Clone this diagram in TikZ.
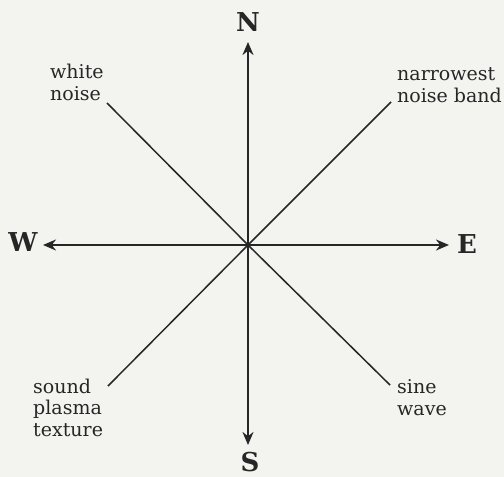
\documentclass[tikz,border=0pt]{standalone}
\usepackage{fontspec}
\setmainfont{DejaVu Serif}
\usetikzlibrary{arrows.meta}
\definecolor{ink}{HTML}{262626}
\definecolor{paper}{HTML}{F3F3F0}
\tikzset{
  arr/.style={draw=ink, line width=2.2pt, -{Stealth[length=13pt,width=11pt]}},
  diag/.style={draw=ink, line width=1.5pt},
  compass/.style={text=ink, font=\fontsize{26}{30}\selectfont\bfseries, inner sep=0pt},
  lbl/.style={text=ink, font=\fontsize{19}{21.5}\selectfont, align=left, inner sep=0pt, anchor=base west}
}
\begin{document}
\begin{tikzpicture}[x=1pt,y=-1pt]
\fill[paper] (0,0) rectangle (504,477);
\useasboundingbox (0,0) rectangle (504,477);
\coordinate (O) at (248,245);
\coordinate (tipN) at (248,42);
\coordinate (tipS) at (248,445);
\coordinate (tipW) at (43,245);
\coordinate (tipE) at (449,245);
\coordinate (endNW) at (107,103);
\coordinate (endNE) at (391,102);
\coordinate (endSW) at (108,386);
\coordinate (endSE) at (390,385);
\node[compass] (N) at (248,22) {N};
\node[compass] (S) at (250,462) {S};
\node[compass] (W) at (23,242) {W};
\node[compass] (E) at (467,244) {E};
\node[lbl] (wn) at (50,100) {white\\noise};
\node[lbl] (nb) at (397,102) {narrowest\\noise band};
\node[lbl] (sp) at (33,436) {sound\\plasma\\texture};
\node[lbl] (sw) at (397,415) {sine\\wave};
\draw[arr] (O) -- (tipN);
\draw[arr] (O) -- (tipS);
\draw[arr] (O) -- (tipW);
\draw[arr] (O) -- (tipE);
\draw[diag] (O) -- (endNW);
\draw[diag] (O) -- (endNE);
\draw[diag] (O) -- (endSW);
\draw[diag] (O) -- (endSE);
\end{tikzpicture}
\end{document}
